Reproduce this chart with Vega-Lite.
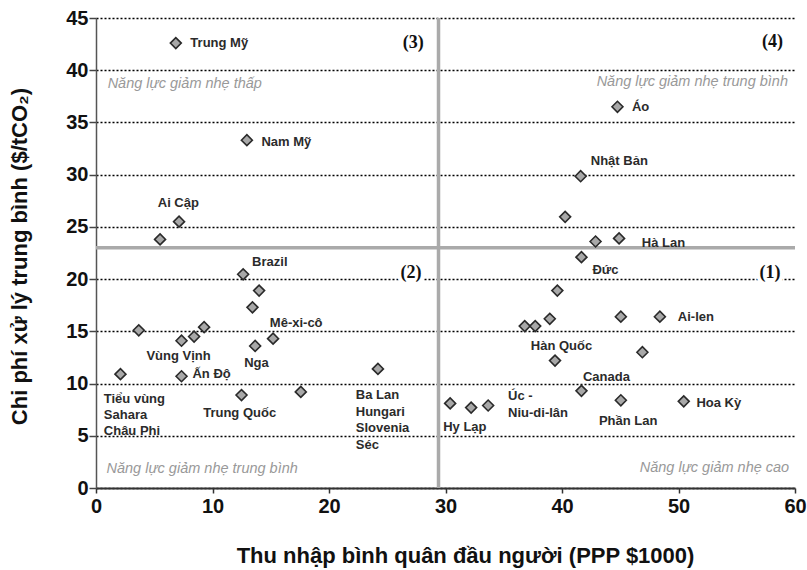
{
  "$schema": "https://vega.github.io/schema/vega-lite/v6.json",
  "width": 699,
  "height": 470,
  "autosize": {"type": "none"},
  "padding": {"left": 96, "top": 18, "right": 12, "bottom": 82},
  "background": "white",
  "config": {
    "view": {"stroke": null},
    "font": "Liberation Sans"
  },
  "datasets": {
    "points": [
      {"x": 6.85, "y": 42.6}, {"x": 12.95, "y": 33.3}, {"x": 7.13, "y": 25.5}, {"x": 5.5, "y": 23.8},
      {"x": 12.63, "y": 20.46}, {"x": 14.0, "y": 18.9}, {"x": 13.43, "y": 17.3}, {"x": 3.67, "y": 15.1},
      {"x": 7.34, "y": 14.1}, {"x": 8.42, "y": 14.5}, {"x": 9.28, "y": 15.4}, {"x": 13.66, "y": 13.6},
      {"x": 15.2, "y": 14.3}, {"x": 2.1, "y": 10.9}, {"x": 7.34, "y": 10.7}, {"x": 12.49, "y": 8.9},
      {"x": 17.58, "y": 9.2}, {"x": 24.2, "y": 11.4},
      {"x": 41.67, "y": 22.1}, {"x": 39.6, "y": 18.9}, {"x": 36.8, "y": 15.5}, {"x": 37.7, "y": 15.5},
      {"x": 38.95, "y": 16.2}, {"x": 45.05, "y": 16.4}, {"x": 48.4, "y": 16.4}, {"x": 46.9, "y": 13.0},
      {"x": 39.4, "y": 12.2}, {"x": 41.67, "y": 9.3}, {"x": 45.05, "y": 8.4}, {"x": 50.45, "y": 8.3},
      {"x": 30.4, "y": 8.1}, {"x": 32.2, "y": 7.7}, {"x": 33.66, "y": 7.9},
      {"x": 44.76, "y": 36.5}, {"x": 41.6, "y": 29.85}, {"x": 40.27, "y": 25.96}, {"x": 42.88, "y": 23.6},
      {"x": 44.9, "y": 23.9}
    ],
    "labels": [
      {"text": "Trung Mỹ", "x": 8.1, "y": 42.6},
      {"text": "Nam Mỹ", "x": 14.2, "y": 33.1},
      {"text": "Ai Cập", "x": 5.3, "y": 27.3},
      {"text": "Brazil", "x": 13.4, "y": 21.6},
      {"text": "Mê-xi-cô", "x": 14.92, "y": 15.8},
      {"text": "Vùng Vịnh", "x": 4.33, "y": 12.6},
      {"text": "Ấn Độ", "x": 8.28, "y": 10.9},
      {"text": "Nga", "x": 12.72, "y": 12.0},
      {"text": "Trung Quốc", "x": 9.2, "y": 7.2},
      {"text": "Tiểu vùng", "x": 0.67, "y": 8.55},
      {"text": "Sahara", "x": 0.67, "y": 7.0},
      {"text": "Châu Phi", "x": 0.67, "y": 5.5},
      {"text": "Ba Lan", "x": 22.3, "y": 8.86},
      {"text": "Hungari", "x": 22.3, "y": 7.3},
      {"text": "Slovenia", "x": 22.3, "y": 5.7},
      {"text": "Séc", "x": 22.3, "y": 4.14},
      {"text": "Hy Lạp", "x": 29.8, "y": 5.8},
      {"text": "Úc -", "x": 35.37, "y": 8.77},
      {"text": "Niu-di-lân", "x": 35.37, "y": 7.19},
      {"text": "Canada", "x": 41.8, "y": 10.63},
      {"text": "Phần Lan", "x": 43.17, "y": 6.38},
      {"text": "Hoa Kỳ", "x": 51.54, "y": 8.14},
      {"text": "Hàn Quốc", "x": 37.32, "y": 13.63},
      {"text": "Ai-len", "x": 49.94, "y": 16.4},
      {"text": "Đức", "x": 42.61, "y": 20.9},
      {"text": "Hà Lan", "x": 46.85, "y": 23.47},
      {"text": "Nhật Bản", "x": 42.47, "y": 31.28},
      {"text": "Áo", "x": 46.0, "y": 36.5}
    ],
    "quadrants": [
      {"text": "(1)", "x": 58.75, "y": 20.6},
      {"text": "(2)", "x": 27.94, "y": 20.6},
      {"text": "(3)", "x": 28.14, "y": 42.6},
      {"text": "(4)", "x": 58.98, "y": 42.7}
    ],
    "notesLeft": [
      {"text": "Năng lực giảm nhẹ thấp", "x": 1.0, "y": 38.7},
      {"text": "Năng lực giảm nhẹ trung bình", "x": 0.9, "y": 1.82}
    ],
    "notesRight": [
      {"text": "Năng lực giảm nhẹ trung bình", "x": 59.4, "y": 38.9},
      {"text": "Năng lực giảm nhẹ cao", "x": 59.5, "y": 1.88}
    ],
    "vline": [{"x": 29.4}],
    "hline": [{"y": 23}]
  },
  "layer": [
    {
      "data": {"name": "points"},
      "mark": {"type": "point", "opacity": 0},
      "encoding": {
        "x": {
          "field": "x", "type": "quantitative",
          "scale": {"domain": [0, 60], "nice": false, "zero": true},
          "axis": {
            "values": [0, 10, 20, 30, 40, 50, 60],
            "title": "Thu nhập bình quân đầu người (PPP $1000)",
            "grid": false,
            "domainColor": "#333", "domainWidth": 2,
            "tickColor": "#333", "tickWidth": 1.5, "tickSize": 5,
            "labelFont": "Liberation Sans", "labelFontWeight": "bold", "labelFontSize": 20,
            "labelColor": "#111", "labelPadding": 3, "labelFlush": false,
            "titleFont": "Liberation Sans", "titleFontWeight": "bold", "titleFontSize": 22,
            "titleColor": "#111",
            "titleX": 369, "titleY": 67, "titleAlign": "center", "titleBaseline": "middle"
          }
        },
        "y": {
          "field": "y", "type": "quantitative",
          "scale": {"domain": [0, 45], "nice": false},
          "axis": {
            "values": [0, 5, 10, 15, 20, 25, 30, 35, 40, 45],
            "title": "Chi phí xử lý trung bình ($/tCO₂)",
            "grid": true, "gridColor": "#000", "gridDash": [2, 2], "gridWidth": 1.3,
            "domainColor": "#555", "domainWidth": 1.5,
            "tickColor": "#444", "tickWidth": 1.5, "tickSize": 7,
            "labelFont": "Liberation Sans", "labelFontWeight": "bold", "labelFontSize": 20,
            "labelColor": "#111", "labelPadding": 1, "labelFlush": false,
            "titleFont": "Liberation Sans", "titleFontWeight": "bold", "titleFontSize": 22,
            "titleColor": "#111",
            "titleX": -77, "titleY": 238, "titleAngle": -90, "titleAlign": "center", "titleBaseline": "middle"
          }
        }
      }
    },
    {
      "data": {"name": "vline"},
      "mark": {"type": "rule", "color": "#aaaaaa", "strokeWidth": 3.5},
      "encoding": {"x": {"field": "x", "type": "quantitative"}}
    },
    {
      "data": {"name": "hline"},
      "mark": {"type": "rule", "color": "#aaaaaa", "strokeWidth": 3.5},
      "encoding": {"y": {"field": "y", "type": "quantitative"}}
    },
    {
      "data": {"name": "points"},
      "mark": {"type": "point", "shape": "diamond", "size": 120, "filled": true, "fill": "#a8a8a8", "stroke": "#2a2a2a", "strokeWidth": 1.6, "opacity": 1},
      "encoding": {
        "x": {"field": "x", "type": "quantitative"},
        "y": {"field": "y", "type": "quantitative"}
      }
    },
    {
      "data": {"name": "labels"},
      "mark": {"type": "text", "align": "left", "baseline": "middle", "font": "Liberation Sans", "fontWeight": "bold", "fontSize": 13, "color": "#2b2b2b"},
      "encoding": {
        "x": {"field": "x", "type": "quantitative"},
        "y": {"field": "y", "type": "quantitative"},
        "text": {"field": "text"}
      }
    },
    {
      "data": {"name": "quadrants"},
      "mark": {"type": "text", "align": "right", "baseline": "middle", "font": "Liberation Serif", "fontWeight": "bold", "fontSize": 18, "stroke": "white", "strokeWidth": 8, "color": "white"},
      "encoding": {
        "x": {"field": "x", "type": "quantitative"},
        "y": {"field": "y", "type": "quantitative"},
        "text": {"field": "text"}
      }
    },
    {
      "data": {"name": "quadrants"},
      "mark": {"type": "text", "align": "right", "baseline": "middle", "font": "Liberation Serif", "fontWeight": "bold", "fontSize": 18, "color": "#111"},
      "encoding": {
        "x": {"field": "x", "type": "quantitative"},
        "y": {"field": "y", "type": "quantitative"},
        "text": {"field": "text"}
      }
    },
    {
      "data": {"name": "notesLeft"},
      "mark": {"type": "text", "align": "left", "baseline": "middle", "font": "Liberation Sans", "fontStyle": "italic", "fontSize": 14.5, "color": "#999999"},
      "encoding": {
        "x": {"field": "x", "type": "quantitative"},
        "y": {"field": "y", "type": "quantitative"},
        "text": {"field": "text"}
      }
    },
    {
      "data": {"name": "notesRight"},
      "mark": {"type": "text", "align": "right", "baseline": "middle", "font": "Liberation Sans", "fontStyle": "italic", "fontSize": 14.5, "color": "#999999"},
      "encoding": {
        "x": {"field": "x", "type": "quantitative"},
        "y": {"field": "y", "type": "quantitative"},
        "text": {"field": "text"}
      }
    }
  ]
}
